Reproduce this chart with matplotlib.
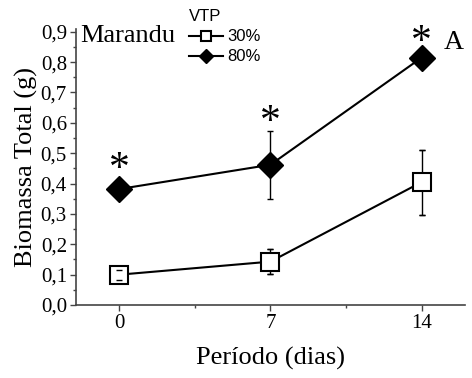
import matplotlib
matplotlib.use("Agg")
import matplotlib.pyplot as plt
from matplotlib.ticker import MultipleLocator, FuncFormatter

# data
dias = [0, 7, 14]
vtp30 = [0.10, 0.143, 0.405]
vtp30_err = [0.017, 0.042, 0.107]
vtp80 = [0.382, 0.462, 0.815]
vtp80_err = [0.01, 0.112, 0.01]
asteriscos_y = [0.445, 0.60, 0.865]

serif = "Liberation Serif"
sans = "Liberation Sans"

fig = plt.figure(figsize=(4.72, 3.78), dpi=100)
ax = fig.add_axes([0.161, 0.193, 0.824, 0.731])

# error bar lines behind markers, caps on top
for y, e in [(vtp30, vtp30_err), (vtp80, vtp80_err)]:
    ax.errorbar(dias, y, yerr=e, fmt="none", ecolor="black", elinewidth=1,
                capsize=2.5, capthick=1, zorder=1)

l30, = ax.plot(dias, vtp30, "-s", color="black", lw=1.5, ms=13,
               mfc="white", mec="black", mew=1.5, zorder=2)
l80, = ax.plot(dias, vtp80, "-D", color="black", lw=1.5, ms=13.5,
               mfc="black", mec="black", zorder=2)

ax.errorbar(dias, vtp30, yerr=vtp30_err, fmt="none", ecolor="black",
            elinewidth=0, capsize=2.5, capthick=1, zorder=3)

for x, y in zip(dias, asteriscos_y):
    ax.text(x, y, "*", fontsize=30, family=serif, ha="center", va="center")

ax.set_xlim(-2, 16)
ax.set_ylim(0, 0.91)
ax.xaxis.set_major_locator(MultipleLocator(7))
ax.xaxis.set_minor_locator(MultipleLocator(3.5))
ax.yaxis.set_major_locator(MultipleLocator(0.1))
ax.yaxis.set_minor_locator(MultipleLocator(0.05))
ax.yaxis.set_major_formatter(FuncFormatter(lambda v, p: f"{v:.1f}".replace(".", ",")))

for s in ["top", "right"]:
    ax.spines[s].set_visible(False)
for s in ["left", "bottom"]:
    ax.spines[s].set_color("#444444")
    ax.spines[s].set_linewidth(1.2)
ax.tick_params(which="major", direction="out", length=4.5, width=1, color="#444444",
               labelsize=15, pad=2)
ax.tick_params(which="minor", direction="out", length=2.5, width=1, color="#444444")
for lab in ax.get_xticklabels() + ax.get_yticklabels():
    lab.set_family(serif)

ax.set_xlabel("Período (dias)", fontsize=19, family=serif, labelpad=10)
ax.set_ylabel("Biomassa Total (g)", fontsize=19, family=serif, labelpad=2)

ax.text(0.01, 0.975, "Marandu", transform=ax.transAxes, fontsize=19,
        family=serif, va="center", ha="left")
fig.text(0.94, 0.888, "A", fontsize=20, family=serif, va="center", ha="left")

leg = ax.legend([l30, l80], ["30%", "80%"], title="VTP", loc="upper left",
                bbox_to_anchor=(0.27, 1.10), frameon=False, fontsize=12,
                title_fontsize=12, handlelength=2.0, handletextpad=0.25,
                labelspacing=0.3, borderpad=0, markerscale=0.5)
leg._legend_box.align = "left"
for t in leg.get_texts() + [leg.get_title()]:
    t.set_family(sans)

fig.savefig("out.png", dpi=100)
